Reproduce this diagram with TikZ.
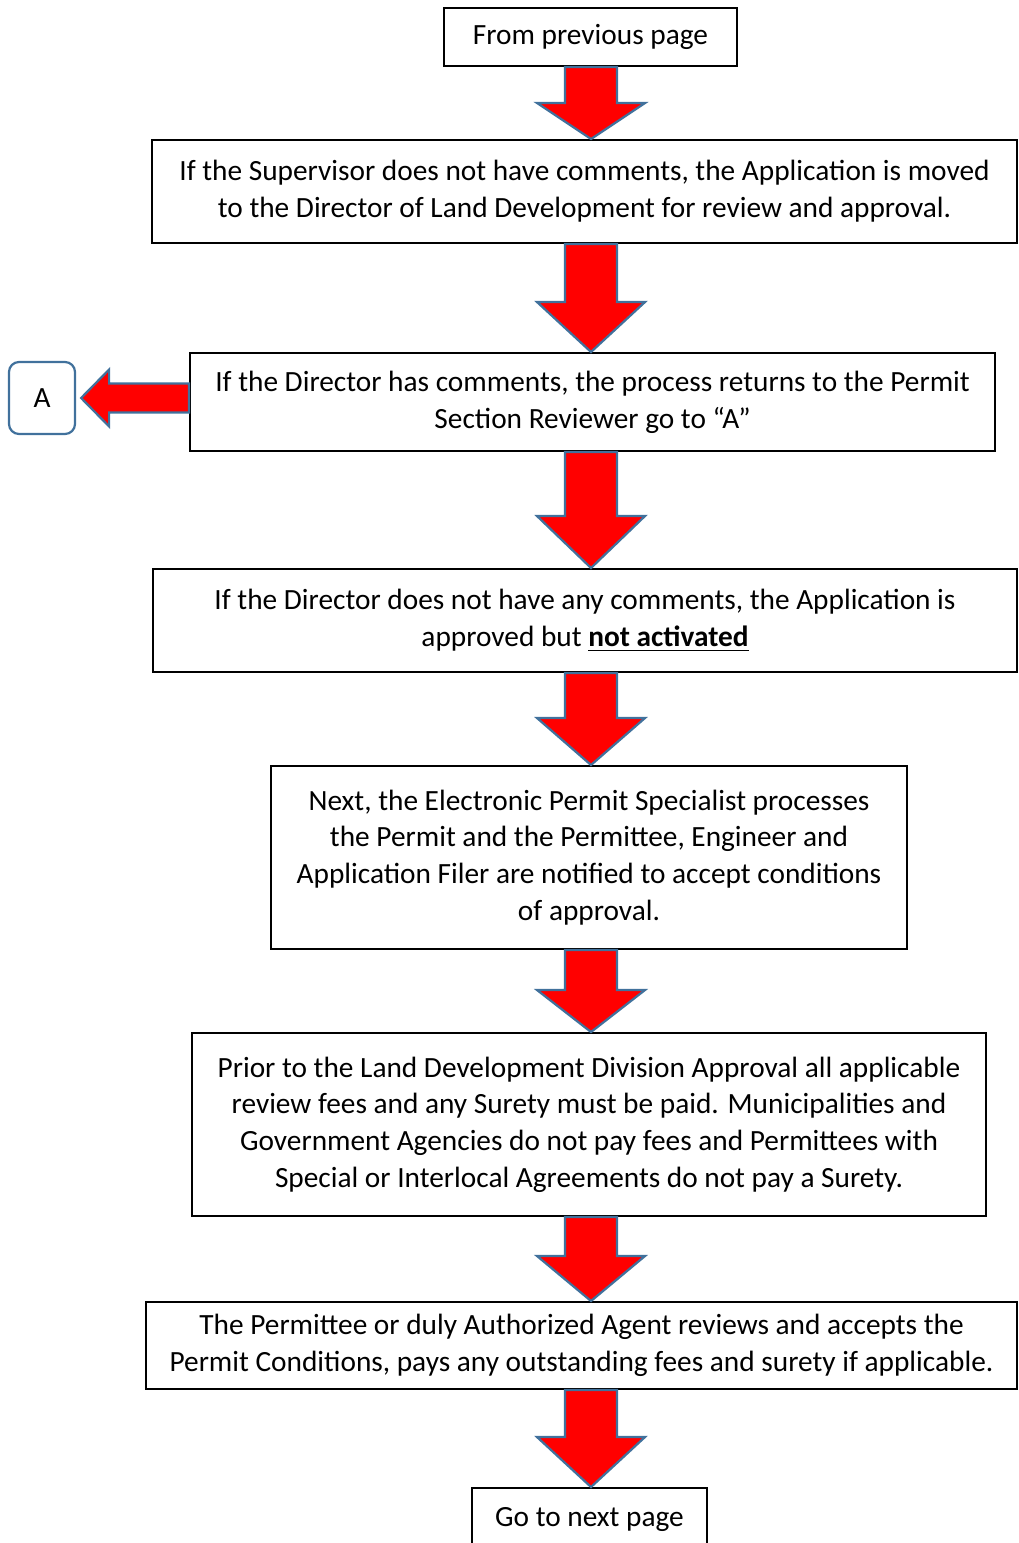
\documentclass[tikz,border=0pt]{standalone}
\usepackage{fontspec}
\setmainfont{Carlito}
\usetikzlibrary{calc}
\definecolor{arrowred}{HTML}{FF0000}
\definecolor{arrowedge}{HTML}{41719C}

% block arrow from the bottom of one box down to the top of the next
\newcommand{\flowdown}[3]{%
  \coordinate (ft) at (axis |- #1.south);
  \coordinate (fh) at (axis |- #2.north);
  \draw[flowarrow] ($(ft)+(-26,0)$) -- ($(fh)+(-26,-#3)$) -- ($(fh)+(-54,-#3)$)
    -- (fh) -- ($(fh)+(54,-#3)$) -- ($(fh)+(26,-#3)$) -- ($(ft)+(26,0)$) -- cycle;}

\begin{document}
\begin{tikzpicture}[x=0.45pt, y=-0.45pt,
    stepbox/.style={draw, line width=0.9pt, align=center, inner sep=0pt,
                    font=\fontsize{13.2}{16.5}\selectfont},
    flowarrow/.style={fill=arrowred, draw=arrowedge, line width=1pt, line join=miter},
    labelbox/.style={draw=arrowedge, line width=1pt, rounded corners=4.5pt,
                     minimum width=66*0.45pt, minimum height=72*0.45pt,
                     font=\fontsize{13.2}{16.5}\selectfont}]
    \useasboundingbox (0,0) rectangle (1019,1543);
    \coordinate (axis) at (591,0);

    % Define the boxes of the flow
    \node[stepbox, minimum width=293*0.45pt, minimum height=58*0.45pt] (b1) at (590.5,37)
        {From previous page};
    \node[stepbox, minimum width=865*0.45pt, minimum height=103*0.45pt] (b2) at (584.5,191.5)
        {If the Supervisor does not have comments, the Application is moved\\
         to the Director of Land Development for review and approval.};
    \node[stepbox, minimum width=805*0.45pt, minimum height=98*0.45pt] (b3) at (592.5,402)
        {If the Director has comments, the process returns to the Permit\\
         Section Reviewer go to “A”};
    \node[stepbox, minimum width=864*0.45pt, minimum height=103*0.45pt] (b4) at (585,620.5)
        {If the Director does not have any comments, the Application is\\
         approved but \textbf{\underline{not activated}}};
    \node[stepbox, minimum width=636*0.45pt, minimum height=183*0.45pt] (b5) at (589,857.5)
        {Next, the Electronic Permit Specialist processes\\
         the Permit and the Permittee, Engineer and\\
         Application Filer are notified to accept conditions\\
         of approval.};
    \node[stepbox, minimum width=794*0.45pt, minimum height=183*0.45pt] (b6) at (589,1124.5)
        {Prior to the Land Development Division Approval all applicable\\
         review fees and any Surety must be paid. Municipalities and\\
         Government Agencies do not pay fees and Permittees with\\
         Special or Interlocal Agreements do not pay a Surety.};
    \node[stepbox, minimum width=871*0.45pt, minimum height=87*0.45pt] (b7) at (581.5,1345.5)
        {The Permittee or duly Authorized Agent reviews and accepts the\\
         Permit Conditions, pays any outstanding fees and surety if applicable.};
    \node[stepbox, minimum width=235*0.45pt, minimum height=62*0.45pt] (b8) at (589.5,1519)
        {Go to next page};

    % Define the side label
    \node[labelbox] (A) at (42,398) {A};

    % Define the block arrows
    \flowdown{b1}{b2}{36}
    \flowdown{b2}{b3}{50}
    \flowdown{b3}{b4}{52}
    \flowdown{b4}{b5}{47}
    \flowdown{b5}{b6}{42}
    \flowdown{b6}{b7}{45}
    \flowdown{b7}{b8}{50}

    % Arrow back to A
    \coordinate (ls) at (b3.west |- A.east);
    \coordinate (lt) at ($(A.east)+(5,0)$);
    \draw[flowarrow] ($(ls)+(0,-14.5)$) -- ($(lt)+(28,-14.5)$) -- ($(lt)+(28,-28.5)$)
        -- (lt) -- ($(lt)+(28,28.5)$) -- ($(lt)+(28,14.5)$) -- ($(ls)+(0,14.5)$) -- cycle;
\end{tikzpicture}
\end{document}
